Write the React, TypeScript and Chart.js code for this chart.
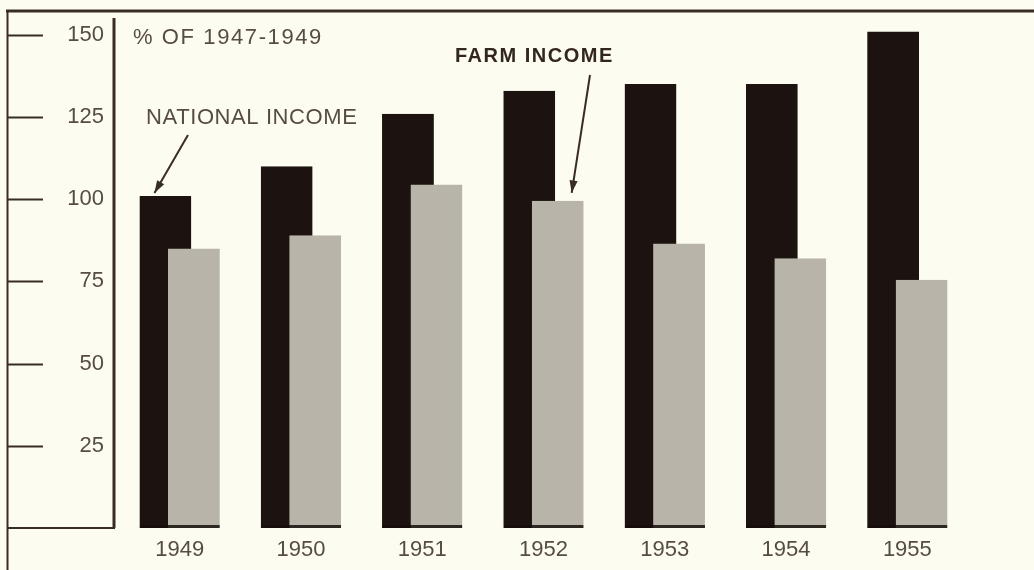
import React, { useEffect, useRef } from 'react';
import { Chart, registerables } from 'chart.js';

Chart.register(...registerables);

const YEARS = ['1949', '1950', '1951', '1952', '1953', '1954', '1955'];
const NATIONAL_INCOME = [101, 110, 126, 133, 135, 135, 151];
const FARM_INCOME = [85, 89, 104.5, 99.5, 86.5, 82, 75.5];
const Y_TICKS = [25, 50, 75, 100, 125, 150];
const Y_MAX = 152;
const UNIT_LABEL = '% OF 1947-1949';
const NATIONAL_LABEL = 'NATIONAL INCOME';
const FARM_LABEL = 'FARM INCOME';

const BG = '#fcfcf1';
const INK = '#382c24';
const TEXT = '#564c44';
const FONT = '"Liberation Sans", Arial, sans-serif';

function arrow(ctx: CanvasRenderingContext2D, x1: number, y1: number, x2: number, y2: number) {
  ctx.save();
  ctx.strokeStyle = INK;
  ctx.fillStyle = INK;
  ctx.lineWidth = 2;
  ctx.beginPath();
  ctx.moveTo(x1, y1);
  ctx.lineTo(x2, y2);
  ctx.stroke();
  const a = Math.atan2(y2 - y1, x2 - x1);
  const L = 13;
  const W = 0.32;
  ctx.beginPath();
  ctx.moveTo(x2, y2);
  ctx.lineTo(x2 - L * Math.cos(a - W), y2 - L * Math.sin(a - W));
  ctx.lineTo(x2 - L * Math.cos(a + W), y2 - L * Math.sin(a + W));
  ctx.closePath();
  ctx.fill();
  ctx.restore();
}

const framePlugin = {
  id: 'frame',
  beforeDraw(chart: any) {
    const { ctx, width, height } = chart;
    ctx.save();
    ctx.fillStyle = BG;
    ctx.fillRect(0, 0, width, height);
    ctx.restore();
  },
  beforeDatasetDraw(chart: any, args: any) {
    // farm income bars are drawn afterwards so they overlap the national bars
    if (args.index === 1) return false;
    return true;
  },
  afterDatasetsDraw(chart: any) {
    const meta = chart.getDatasetMeta(1);
    meta.controller.draw();
  },
  afterDraw(chart: any) {
    const { ctx, width, height, scales } = chart;
    const y = scales.y;
    const zero = y.getPixelForValue(0);
    ctx.save();
    ctx.strokeStyle = INK;
    // top border
    ctx.lineWidth = 3;
    ctx.beginPath();
    ctx.moveTo(6, 11);
    ctx.lineTo(width, 11);
    ctx.stroke();
    // left border
    ctx.lineWidth = 2;
    ctx.beginPath();
    ctx.moveTo(7.5, 11);
    ctx.lineTo(7.5, height);
    ctx.stroke();
    // y axis line
    ctx.lineWidth = 3;
    ctx.beginPath();
    ctx.moveTo(114, 18);
    ctx.lineTo(114, zero);
    ctx.stroke();
    // bottom-left base line
    ctx.lineWidth = 2;
    ctx.beginPath();
    ctx.moveTo(7, zero);
    ctx.lineTo(115, zero);
    ctx.stroke();
    // tick marks on the far left
    for (const v of Y_TICKS) {
      const py = Math.round(y.getPixelForValue(v)) + 0.5;
      ctx.beginPath();
      ctx.moveTo(8, py);
      ctx.lineTo(43, py);
      ctx.stroke();
    }
    // texts
    ctx.fillStyle = TEXT;
    ctx.textBaseline = 'middle';
    ctx.textAlign = 'left';
    ctx.font = `22px ${FONT}`;
    (ctx as any).letterSpacing = '1.6px';
    ctx.fillText(UNIT_LABEL, 133, 38);
    (ctx as any).letterSpacing = '0.6px';
    ctx.fillText(NATIONAL_LABEL, 146, 118);
    ctx.fillStyle = '#33261f';
    ctx.font = `bold 20px ${FONT}`;
    (ctx as any).letterSpacing = '1.5px';
    ctx.fillText(FARM_LABEL, 455, 56);
    (ctx as any).letterSpacing = '0px';
    // arrows anchored to bars
    const nat = chart.getDatasetMeta(0).data[0];
    const farm = chart.getDatasetMeta(1).data[3];
    arrow(ctx, 188, 135, nat.x - nat.width / 2 + 15, nat.y - 3);
    arrow(ctx, 590, 75, farm.x + farm.width / 2 - 12, farm.y - 8);
    ctx.restore();
  },
};

export default function App() {
  const ref = useRef<HTMLCanvasElement>(null);
  useEffect(() => {
    document.body.style.margin = '0';
    document.body.style.background = BG;
    const canvas = ref.current!;
    const chart = new Chart(canvas, {
      type: 'bar',
      data: {
        labels: YEARS,
        datasets: [
          {
            label: NATIONAL_LABEL,
            data: NATIONAL_INCOME,
            backgroundColor: '#1c1310',
            borderColor: '#140d0a',
            borderWidth: { top: 0, left: 0, right: 0, bottom: 3 } as any,
            borderSkipped: false,
          },
          {
            label: FARM_LABEL,
            data: FARM_INCOME,
            backgroundColor: '#b9b4aa',
            borderColor: '#2e2822',
            borderWidth: { top: 0, left: 0, right: 0, bottom: 3 } as any,
            borderSkipped: false,
          },
        ],
      },
      options: {
        responsive: false,
        animation: false,
        events: [],
        categoryPercentage: 0.47,
        barPercentage: 1.82,
        layout: { padding: { left: 0, right: 66, top: 26, bottom: 0 } },
        plugins: { legend: { display: false }, tooltip: { enabled: false } },
        scales: {
          x: {
            grid: { display: false, drawTicks: false },
            border: { display: false },
            ticks: { font: { family: FONT, size: 22 }, color: TEXT, padding: 9 },
            afterFit: (s: any) => {
              s.height = 42;
            },
          },
          y: {
            min: 0,
            max: Y_MAX,
            grid: { display: false, drawTicks: false },
            border: { display: false },
            afterBuildTicks: (s: any) => {
              s.ticks = Y_TICKS.map((v) => ({ value: v }));
            },
            ticks: { font: { family: FONT, size: 22 }, color: TEXT, padding: 15 },
            afterFit: (s: any) => {
              s.width = 119;
            },
          },
        },
      } as any,
      plugins: [framePlugin],
    });
    return () => chart.destroy();
  }, []);
  return (
    <div style={{ width: 1034, height: 570 }}>
      <canvas ref={ref} width={1034} height={570} style={{ display: 'block' }} />
    </div>
  );
}
